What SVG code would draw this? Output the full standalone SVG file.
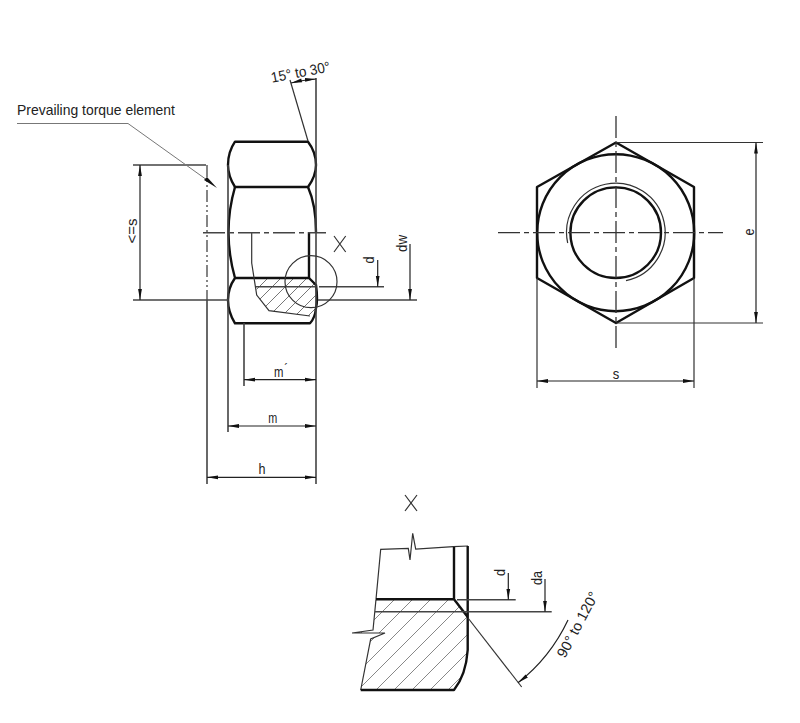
<svg xmlns="http://www.w3.org/2000/svg" width="800" height="723" viewBox="0 0 800 723">
<style>
.b{fill:none;stroke:#111;stroke-width:2.4;stroke-linejoin:round}
.t{fill:none;stroke:#333;stroke-width:1.2}
.g{fill:none;stroke:#444;stroke-width:1.6}
.c{fill:none;stroke:#333;stroke-width:1.3;stroke-dasharray:22 4 5 4}
.p{fill:none;stroke:#444;stroke-width:1.3;stroke-dasharray:12 3 2 3 2 3}
.a{fill:none;stroke:#222;stroke-width:1.2;marker-end:url(#ar)}
.aa{fill:none;stroke:#222;stroke-width:1.2;marker-start:url(#ars);marker-end:url(#ar)}
text{font-family:"Liberation Sans",Arial,sans-serif;font-size:14.500px;fill:#222}
.mid{text-anchor:middle}
</style>
<defs>
<marker id="ar" markerUnits="userSpaceOnUse" markerWidth="12" markerHeight="6" refX="11" refY="3" orient="auto"><path d="M0 1.100L11 3L0 4.900Z" fill="#111"/></marker>
<marker id="ars" markerUnits="userSpaceOnUse" markerWidth="12" markerHeight="6" refX="0" refY="3" orient="auto"><path d="M11 1.100L0 3L11 4.900Z" fill="#111"/></marker>
<pattern id="h1" patternUnits="userSpaceOnUse" width="13" height="13"><path d="M-1 14L14 -1" stroke="#777" stroke-width="1"/></pattern>
<pattern id="h2" patternUnits="userSpaceOnUse" width="18" height="18" x="4"><path d="M-1 19L19 -1" stroke="#888" stroke-width="1"/></pattern>
</defs>

<g id="side-view">
<path d="M256.500 278L309 278L316 285L316 318L310 316L269 310.700L256.700 295Z" fill="url(#h1)"/>
<path class="b" d="M308 141.700H235Q228 152 228 165Q228 176 235 187H308Q316 176 316 165Q316 152 308 141.700Z"/>
<path class="b" d="M235 187Q222 232 235 278H309L316 285Q318 300 316 308Q315 318 310 323.300H235Q228 312 228 300Q228 288 235 278"/>
<path class="b" d="M308 187Q316 205 316 232M309 232V278"/>
<path class="t" d="M251.700 233V263L256.700 295L269 310.700L310 316"/>
</g>

<g id="side-dimensions">
<path class="g" d="M203 232.700H326" style="stroke-dasharray:22 4 5 4"/>
<path class="g" d="M133 165H206M133 300H228M318 300H417M256 286.700H316M319 286.700H384"/>
<path class="p" d="M207 165V300"/>
<path class="g" d="M207 300V484M228 165V432M244 323V386M316 78V484"/>
<path class="t" d="M290 80L308 141"/>
<path class="aa" d="M291 83Q303 80 316 79"/>
<path class="aa" d="M140 165V300"/>
<path class="a" d="M377.700 260V286.700"/>
<path class="a" d="M410 244V300"/>
<path class="aa" d="M244 379.700H316"/>
<path class="aa" d="M228 426H316"/>
<path class="aa" d="M207 477.300H316"/>
<circle class="t" cx="311" cy="281.700" r="26"/>
<path class="t" d="M334 236L345.700 252M345.700 236L334 252"/>
<path d="M17 123.500H128L207 180" fill="none" stroke="#777" stroke-width="1"/>
<path d="M204 180L207 177L217 188Z" fill="#111"/>
<text x="17" y="115" textLength="158" lengthAdjust="spacingAndGlyphs">Prevailing torque element</text>
<text transform="translate(301.500 77) rotate(-11)" class="mid" textLength="60" lengthAdjust="spacingAndGlyphs">15° to 30°</text>
<text transform="translate(137 231) rotate(-90)" class="mid" textLength="25" lengthAdjust="spacingAndGlyphs">&lt;=s</text>
<text transform="translate(374 260) rotate(-90)" class="mid" textLength="7" lengthAdjust="spacingAndGlyphs">d</text>
<text transform="translate(407 243.500) rotate(-90)" class="mid" textLength="17" lengthAdjust="spacingAndGlyphs">dw</text>
<text transform="translate(274 377) scale(.78 1)">m<tspan dx="1" dy="-3">´</tspan></text>
<text x="272.700" y="423" class="mid" textLength="9" lengthAdjust="spacingAndGlyphs">m</text>
<text x="262" y="474" class="mid" textLength="7" lengthAdjust="spacingAndGlyphs">h</text>
</g>

<g id="front-view">
<path class="b" d="M616 142.500L694 187V278L616 323L537 278V187Z"/>
<circle class="b" cx="615.700" cy="232.700" r="78.500"/>
<circle class="b" cx="615.700" cy="232.700" r="45.300"/>
<path class="t" d="M567.700 243A49.300 49.300 0 1 1 626 280.700"/>
<path class="c" d="M616 116V350"/>
<path class="c" d="M498 232.700H723"/>
<path class="t" d="M616 142.500H763M616 323H763M537 278V388M694 278V388"/>
<path class="aa" d="M756 142.500V323"/>
<path class="aa" d="M537 381H694"/>
<text transform="translate(754 232) rotate(-90)" class="mid" textLength="7" lengthAdjust="spacingAndGlyphs">e</text>
<text x="616" y="378.500" class="mid" textLength="6.500" lengthAdjust="spacingAndGlyphs">s</text>
</g>

<g id="detail-x">
<path d="M376 599.300H454L467.700 617V650Q466 675 454 690H360.700L370.700 639L385 633L352 633L373 630Z" fill="url(#h2)"/>
<path class="t" d="M376 599.300L380.700 549.300L408.300 548.300L410 560L412.700 533.300L415.700 549L453.300 546.700L468 546"/>
<path class="t" d="M376 599.300L373 630L352 633L385 633L370.700 639L360.700 690"/>
<path class="b" d="M454 547V599.300H376M454 599.300L467.700 617M467.700 546V650Q466 675 454 690H360.700"/>
<path class="g" d="M375 611.700H551.700M457 599.700H515.700"/>
<path class="t" d="M468 618L521.700 687"/>
<path class="a" d="M508.300 573V599.700"/>
<path class="a" d="M545 579V611.700"/>
<path class="a" d="M568 620Q550 658 518 682.700"/>
<path class="t" d="M405 495L417 511M417 495L405 511"/>
<text transform="translate(505 572.500) rotate(-90)" class="mid" textLength="7" lengthAdjust="spacingAndGlyphs">d</text>
<text transform="translate(542 578) rotate(-90)" class="mid" textLength="14" lengthAdjust="spacingAndGlyphs">da</text>
<text transform="translate(582 627) rotate(-62)" class="mid" textLength="72" lengthAdjust="spacingAndGlyphs">90° to 120°</text>
</g>
</svg>
